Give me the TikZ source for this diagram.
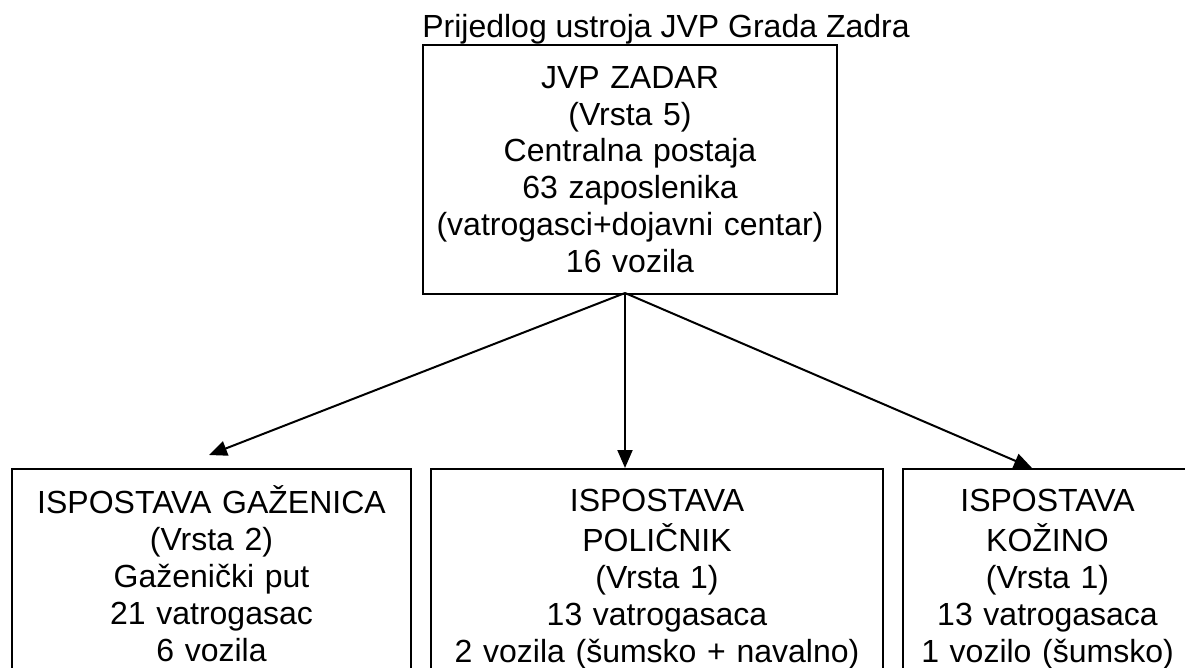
\documentclass[tikz,border=0pt]{standalone}
\usepackage{fontspec}
\setmainfont{Liberation Sans}
\usetikzlibrary{arrows.meta}
\begin{document}
\begin{tikzpicture}[x=1pt,y=-1pt,
  txt/.style={font=\fontsize{32}{36.8}\selectfont},
  box/.style={txt,draw,line width=2pt,align=center,inner xsep=4pt},
  conn/.style={line width=2pt,-{Triangle[length=18pt,width=15pt]}}]
\useasboundingbox (0,0) rectangle (1185,667);
\node[txt,anchor=base] (title) at (666,37) {Prijedlog ustroja JVP Grada Zadra};
\node[box,anchor=north,minimum width=414pt,minimum height=249pt,text width=406pt] (top) at (630,44)
  {JVP ZADAR\\(Vrsta 5)\\Centralna postaja\\63 zaposlenika\\(vatrogasci+dojavni centar)\\16 vozila};
\node[box,anchor=north,minimum width=399pt,text width=391pt,inner ysep=17pt] (left) at (211.5,468)
  {\strut ISPOSTAVA GAŽENICA\\\strut(Vrsta 2)\\\strut Gaženički put\\\strut 21 vatrogasac\\\strut 6 vozila};
\node[box,anchor=north,minimum width=452pt,text width=444pt,inner ysep=17pt] (mid) at (657,468)
  {\strut ISPOSTAVA\\\strut POLIČNIK\\\strut(Vrsta 1)\\\strut 13 vatrogasaca\\\strut 2 vozila (šumsko + navalno)};
\node[box,anchor=north,minimum width=289pt,text width=281pt,inner ysep=17pt] (right) at (1047.5,468)
  {\strut ISPOSTAVA\\\strut KOŽINO\\\strut(Vrsta 1)\\\strut 13 vatrogasaca\\\strut 1 vozilo (šumsko)};
\coordinate (src) at (625,293);
\coordinate (lefttip) at (209,455);
\draw[conn] (src) -- (lefttip);
\draw[conn] (src) -- (src |- mid.north);
\draw[conn] (src) -- (1032,0 |- right.north);
\end{tikzpicture}
\end{document}
